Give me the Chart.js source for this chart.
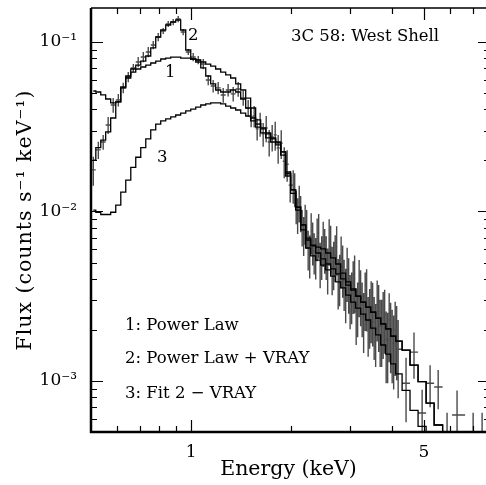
<!DOCTYPE html>
<html>
<head>
<meta charset="utf-8">
<script src="https://cdn.jsdelivr.net/npm/chart.js@4.4.1/dist/chart.umd.min.js"></script>
<style>
  html, body { margin: 0; padding: 0; background: #fff; overflow: hidden; }
  canvas { display: block; }
</style>
</head>
<body>
<canvas id="spectrumChart" width="490" height="485"></canvas>
<script>
// model channel energies (keV)
const modelEnergy = [0.508, 0.526, 0.544, 0.563, 0.583, 0.604, 0.625, 0.647, 0.670, 0.693,
  0.718, 0.743, 0.769, 0.796, 0.824, 0.853, 0.883, 0.914, 0.946, 0.980,
  1.014, 1.050, 1.087, 1.125, 1.164, 1.205, 1.248, 1.291, 1.337, 1.384,
  1.433, 1.483, 1.535, 1.589, 1.645, 1.703, 1.763, 1.825, 1.889, 1.956,
  2.025, 2.096, 2.170, 2.246, 2.325, 2.407, 2.492, 2.579, 2.670, 2.764,
  2.861, 2.962, 3.066, 3.174, 3.286, 3.401, 3.521, 3.645, 3.773, 3.906,
  4.043, 4.185, 4.42, 4.67, 4.94, 5.22, 5.52, 5.87, 6.25, 6.70, 7.18, 7.69];

// 1: Power Law
const powerLaw = [0.0514, 0.0507, 0.0487, 0.0461, 0.0437, 0.0443, 0.0536, 0.0613, 0.0665, 0.0693,
  0.0712, 0.0731, 0.0752, 0.0772, 0.0794, 0.0804, 0.0815, 0.0815, 0.0804, 0.0804,
  0.0794, 0.0783, 0.0762, 0.0741, 0.0721, 0.0693, 0.0665, 0.0639, 0.0613, 0.0566,
  0.0521, 0.0467, 0.0408, 0.0347, 0.0311, 0.0287, 0.0268, 0.0254, 0.0225, 0.0171,
  0.0134, 0.0106, 0.00833, 0.00697, 0.00626, 0.00569, 0.00525, 0.00490, 0.00458, 0.00428,
  0.00400, 0.00368, 0.00344, 0.00317, 0.00292, 0.00273, 0.00255, 0.00235, 0.00217, 0.00203,
  0.00184, 0.00172, 0.00152, 0.00124, 0.00099, 0.00074, 0.00055, 0.00043, 0.0003, 0.0003, 0.0003, 0.0003];

// 2: Power Law + VRAY
const powerLawVray = [0.0201, 0.0238, 0.0264, 0.0295, 0.0356, 0.0443, 0.0543, 0.0630, 0.0693, 0.0731,
  0.0772, 0.0827, 0.0922, 0.1070, 0.1177, 0.1260, 0.1312, 0.1348, 0.1177, 0.0897,
  0.0794, 0.0762, 0.0703, 0.0630, 0.0566, 0.0521, 0.0507, 0.0507, 0.0521, 0.0507,
  0.0461, 0.0408, 0.0356, 0.0328, 0.0307, 0.0291, 0.0272, 0.0257, 0.0225, 0.0167,
  0.0134, 0.0106, 0.00833, 0.00679, 0.00634, 0.00617, 0.00601, 0.00569, 0.00532, 0.00490,
  0.00433, 0.00384, 0.00349, 0.00317, 0.00292, 0.00273, 0.00255, 0.00235, 0.00217, 0.00203,
  0.00184, 0.00172, 0.00152, 0.00124, 0.00099, 0.00074, 0.00055, 0.00043, 0.0003, 0.0003, 0.0003, 0.0003];

// 3: Fit 2 - VRAY
const fit2MinusVray = [0.0102, 0.0099, 0.0096, 0.0096, 0.0099, 0.0109, 0.0130, 0.0153, 0.0182, 0.0209,
  0.0238, 0.0268, 0.0303, 0.0328, 0.0342, 0.0352, 0.0362, 0.0371, 0.0381, 0.0392,
  0.0402, 0.0413, 0.0425, 0.0431, 0.0437, 0.0437, 0.0431, 0.0419, 0.0408, 0.0397,
  0.0381, 0.0366, 0.0342, 0.0315, 0.0291, 0.0272, 0.0257, 0.0247, 0.0215, 0.0162,
  0.0128, 0.0102, 0.00778, 0.00609, 0.00547, 0.00517, 0.00483, 0.00452, 0.00416, 0.00384,
  0.00354, 0.00321, 0.00292, 0.00269, 0.00248, 0.00229, 0.00205, 0.00187, 0.00163, 0.00144,
  0.00126, 0.00110, 0.00088, 0.00067, 0.00054, 0.00043, 0.0003, 0.0003, 0.0003, 0.0003, 0.0003, 0.0003];

// observed spectrum: channel energy (keV), flux, 1-sigma error
const dataEnergy = [0.508, 0.526, 0.544, 0.563, 0.583, 0.604, 0.625, 0.647, 0.670, 0.693,
  0.718, 0.743, 0.769, 0.796, 0.824, 0.853, 0.883, 0.914, 0.946, 0.980,
  1.014, 1.050, 1.087, 1.125, 1.164, 1.205, 1.248, 1.291, 1.337, 1.384,
  1.433, 1.483,
  1.514, 1.546, 1.578, 1.611, 1.645, 1.680, 1.715, 1.751, 1.788, 1.825,
  1.864, 1.903, 1.942, 1.983,
  2.025, 2.046, 2.067, 2.088, 2.111, 2.132, 2.154, 2.177, 2.200, 2.223,
  2.246, 2.270, 2.293, 2.317, 2.341, 2.366, 2.390, 2.415, 2.440, 2.466,
  2.492, 2.518, 2.544, 2.570, 2.597, 2.624, 2.651, 2.679, 2.707, 2.735,
  2.764, 2.792, 2.821, 2.851, 2.880, 2.911, 2.941, 2.972, 3.002, 3.034,
  3.066, 3.097, 3.130, 3.162, 3.195, 3.228, 3.262, 3.296, 3.331, 3.365,
  3.401, 3.436, 3.472, 3.508, 3.545, 3.582, 3.620, 3.657, 3.695, 3.734,
  3.773, 3.812, 3.852, 3.892, 3.933, 3.973, 4.015, 4.057, 4.100, 4.142,
  4.185,
  4.42, 4.67, 4.94, 5.22, 5.52, 5.87, 6.29, 7.03, 7.48];

const dataFlux = [0.0176, 0.0231, 0.0257, 0.0324, 0.0425, 0.0455, 0.0536, 0.0622, 0.0702, 0.0762,
  0.0816, 0.0873, 0.0960, 0.1071, 0.1161, 0.1277, 0.1312, 0.1366, 0.1145, 0.0873,
  0.0816, 0.0783, 0.0742, 0.0597, 0.0550, 0.0536, 0.0487, 0.0521, 0.0494, 0.0528,
  0.0467, 0.0408,
  0.0361, 0.0366, 0.0307, 0.0329, 0.0287, 0.0311, 0.0257, 0.0275, 0.0283, 0.0237,
  0.0253, 0.0198, 0.0190, 0.0143,
  0.0143, 0.0137, 0.0108, 0.00966, 0.0114, 0.00993, 0.00822, 0.00737, 0.00867, 0.00811,
  0.00609, 0.00562, 0.00767, 0.00670, 0.00585, 0.00547, 0.00708, 0.00747, 0.00503, 0.00554,
  0.00670, 0.00609, 0.00554, 0.00464, 0.00689, 0.00625, 0.00470, 0.00503, 0.00554, 0.00617,
  0.00394, 0.00416, 0.00532, 0.00470, 0.00389, 0.00339, 0.00452, 0.00389, 0.00312, 0.00326,
  0.00378, 0.00400, 0.00258, 0.00281, 0.00378, 0.00330, 0.00281, 0.00238, 0.00317, 0.00326,
  0.00226, 0.00252, 0.00277, 0.00270, 0.00223, 0.00203, 0.00281, 0.00258, 0.00211, 0.00211,
  0.00235, 0.00245, 0.00177, 0.00175, 0.00229, 0.00200, 0.00180, 0.00166, 0.00200, 0.00189,
  0.00154,
  0.00097, 0.00148, 0.000647, 0.00097, 0.000922, 0.00045, 0.00063, 0.00045, 0.00046];

const dataErr = [0.0034, 0.0027, 0.0026, 0.0037, 0.0042, 0.0039, 0.0038, 0.0044, 0.0039, 0.0053,
  0.0057, 0.0061, 0.0054, 0.0060, 0.0048, 0.0053, 0.0055, 0.0057, 0.0048, 0.0036,
  0.0046, 0.0044, 0.0052, 0.0042, 0.0047, 0.0045, 0.0049, 0.0044, 0.0049, 0.0053,
  0.0047, 0.0047,
  0.0047, 0.0053, 0.0045, 0.0053, 0.0046, 0.0055, 0.0046, 0.0049, 0.0055, 0.0046,
  0.0049, 0.0041, 0.0040, 0.0030,
  0.0032, 0.0031, 0.0024, 0.0023, 0.0028, 0.0024, 0.0020, 0.0019, 0.0023, 0.0021,
  0.0016, 0.0016, 0.0021, 0.0019, 0.0016, 0.0015, 0.0020, 0.0022, 0.0015, 0.0016,
  0.0020, 0.0018, 0.0016, 0.0014, 0.0021, 0.0020, 0.0015, 0.0016, 0.0017, 0.0020,
  0.0013, 0.0014, 0.0018, 0.0016, 0.0013, 0.0012, 0.0016, 0.0014, 0.0011, 0.0011,
  0.0013, 0.0015, 0.00095, 0.0010, 0.0014, 0.0012, 0.0010, 0.00092, 0.0012, 0.0013,
  0.00087, 0.00097, 0.0011, 0.0011, 0.0009, 0.00082, 0.0011, 0.0011, 0.0009, 0.0009,
  0.0010, 0.0010, 0.0008, 0.00078, 0.0010, 0.00089, 0.00083, 0.00077, 0.00093, 0.00088,
  0.00075,
  0.0004, 0.00045, 0.00024, 0.00027, 0.00024, 0.0002, 0.00025, 0.0002, 0.00019];

// axis ticks
const xMajorTicks = [1, 5];
const xMinorTicks = [0.6, 0.7, 0.8, 0.9, 2, 3, 4, 6, 7];
const yMajorTicks = [1e-3, 1e-2, 1e-1];
const yTickLabels = ['10\u207B\u00B3', '10\u207B\u00B2', '10\u207B\u00B9'];
const yMinorTicks = [6e-4, 7e-4, 8e-4, 9e-4,
  2e-3, 3e-3, 4e-3, 5e-3, 6e-3, 7e-3, 8e-3, 9e-3,
  2e-2, 3e-2, 4e-2, 5e-2, 6e-2, 7e-2, 8e-2, 9e-2];

const legendLines = ['1: Power Law', '2: Power Law + VRAY', '3: Fit 2 \u2212 VRAY'];
const plotTitle = '3C 58: West Shell';

const FONT = '"DejaVu Serif", "Liberation Serif", serif';

function series(values) {
  return modelEnergy.map((e, i) => ({ x: e, y: values[i] }));
}

// draws the data crosses underneath the model lines
const errorBars = {
  id: 'errorBars',
  beforeDatasetsDraw(chart) {
    const { ctx, chartArea: a, scales: { x, y } } = chart;
    ctx.save();
    ctx.beginPath();
    ctx.rect(a.left, a.top, a.right - a.left, a.bottom - a.top);
    ctx.clip();
    ctx.strokeStyle = '#4a4a4a';
    ctx.lineWidth = 1.4;
    ctx.beginPath();
    const px = dataEnergy.map(e => x.getPixelForValue(e));
    dataEnergy.forEach((e, i) => {
      const left = i > 0 ? (px[i] + px[i - 1]) / 2 : px[i] - (px[i + 1] - px[i]) / 2;
      const right = i < px.length - 1 ? (px[i] + px[i + 1]) / 2 : px[i] + (px[i] - px[i - 1]) / 2;
      const hi = y.getPixelForValue(dataFlux[i] + dataErr[i]);
      const loVal = dataFlux[i] - dataErr[i];
      const lo = loVal > 0 ? y.getPixelForValue(loVal) : a.bottom + 20;
      const c = y.getPixelForValue(dataFlux[i]);
      ctx.moveTo(px[i], hi);
      ctx.lineTo(px[i], lo);
      ctx.moveTo(left, c);
      ctx.lineTo(right, c);
    });
    ctx.stroke();
    ctx.restore();
  }
};

// frame, inward ticks and the text annotations
const frame = {
  id: 'frame',
  afterDraw(chart) {
    const { ctx, chartArea: a, scales: { x, y } } = chart;
    ctx.save();
    ctx.strokeStyle = '#000';

    // frame
    ctx.lineWidth = 2.5;
    ctx.beginPath();
    ctx.moveTo(a.left, a.top);
    ctx.lineTo(a.left, a.bottom);
    ctx.lineTo(a.right, a.bottom);
    ctx.stroke();
    ctx.lineWidth = 1.5;
    ctx.beginPath();
    ctx.moveTo(a.left, a.top);
    ctx.lineTo(a.right, a.top);
    ctx.lineTo(a.right, a.bottom);
    ctx.stroke();

    // ticks
    ctx.lineWidth = 1.2;
    ctx.beginPath();
    const xt = (v, len) => {
      const p = Math.round(x.getPixelForValue(v)) + 0.5;
      ctx.moveTo(p, a.bottom); ctx.lineTo(p, a.bottom - len);
      ctx.moveTo(p, a.top); ctx.lineTo(p, a.top + len);
    };
    const yt = (v, len) => {
      const p = Math.round(y.getPixelForValue(v)) + 0.5;
      ctx.moveTo(a.left, p); ctx.lineTo(a.left + len, p);
      ctx.moveTo(a.right, p); ctx.lineTo(a.right - len, p);
    };
    xMajorTicks.forEach(v => xt(v, 12));
    xMinorTicks.forEach(v => xt(v, 6));
    yMajorTicks.forEach(v => yt(v, 12));
    yMinorTicks.forEach(v => yt(v, 6));
    ctx.stroke();

    // axis titles
    ctx.fillStyle = '#000';
    ctx.textAlign = 'center';
    ctx.textBaseline = 'middle';
    ctx.font = '20.5px ' + FONT;
    ctx.fillText('Energy (keV)', (a.left + a.right) / 2 - 2, 470);
    ctx.save();
    ctx.translate(26, (a.top + a.bottom) / 2);
    ctx.rotate(-Math.PI / 2);
    ctx.letterSpacing = '1px';
    ctx.fillText('Flux (counts s\u207B\u00B9 keV\u207B\u00B9)', 0, 0);
    ctx.restore();

    // annotations
    ctx.font = '16.5px ' + FONT;
    ctx.textAlign = 'left';
    ctx.fillText(plotTitle, 291, 37);
    legendLines.forEach((t, i) => ctx.fillText(t, 125, [326, 359, 394][i]));
    ctx.textAlign = 'center';
    ctx.fillText('1', x.getPixelForValue(0.865), y.getPixelForValue(0.0657));
    ctx.fillText('2', x.getPixelForValue(1.014), y.getPixelForValue(0.1085));
    ctx.fillText('3', x.getPixelForValue(0.818), y.getPixelForValue(0.0209));
    ctx.restore();
  }
};

const modelStyle = {
  borderColor: '#000',
  borderWidth: 1.3,
  pointRadius: 0,
  fill: false,
  stepped: 'middle'
};

new Chart(document.getElementById('spectrumChart'), {
  type: 'line',
  data: {
    datasets: [
      { label: '1: Power Law', data: series(powerLaw), ...modelStyle },
      { label: '2: Power Law + VRAY', data: series(powerLawVray), ...modelStyle },
      { label: '3: Fit 2 - VRAY', data: series(fit2MinusVray), ...modelStyle }
    ]
  },
  options: {
    responsive: false,
    animation: false,
    events: [],
    layout: { padding: { top: 8, left: 0, right: 0, bottom: 0 } },
    plugins: {
      legend: { display: false },
      tooltip: { enabled: false }
    },
    scales: {
      x: {
        type: 'logarithmic',
        min: 0.5,
        max: 7.9,
        grid: { display: false, drawTicks: false },
        border: { display: false },
        afterBuildTicks: s => { s.ticks = xMajorTicks.map(v => ({ value: v })); },
        afterFit: s => { s.height = 53; s.paddingLeft = 0; s.paddingRight = 0; },
        ticks: {
          color: '#000',
          padding: 10,
          maxRotation: 0,
          font: { family: FONT, size: 17 },
          callback: v => String(v)
        }
      },
      y: {
        type: 'logarithmic',
        min: 5e-4,
        max: 0.1587,
        grid: { display: false, drawTicks: false },
        border: { display: false },
        afterBuildTicks: s => { s.ticks = yMajorTicks.map(v => ({ value: v })); },
        afterFit: s => { s.width = 91; s.paddingTop = 0; s.paddingBottom = 0; },
        ticks: {
          color: '#000',
          padding: 14,
          font: { family: FONT, size: 17 },
          callback: (v, i) => yTickLabels[i]
        }
      }
    }
  },
  plugins: [errorBars, frame]
});
</script>
</body>
</html>
